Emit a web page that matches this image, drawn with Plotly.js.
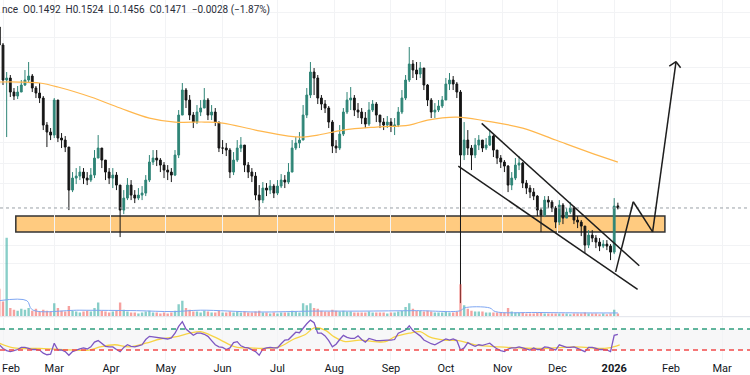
<!DOCTYPE html>
<html><head><meta charset="utf-8">
<script src="https://cdn.plot.ly/plotly-3.0.1.min.js"></script>
<style>html,body{margin:0;padding:0;background:#fff}#chart{width:750px;height:375px}</style>
</head><body><div id="chart"></div>
<script>
// ---- data (one candle per two days, starting 2025-01-30) ----
const candleStart = '2025-01-30';
const candleStepDays = 2;

const openPrices = [
.328,.310,.275,.277,.263,.259,.263,.270,.275,.279,
.267,.262,.257,.230,.223,.220,.255,.217,.215,.208,
.165,.177,.179,.183,.177,.175,.180,.197,.207,.195,
.183,.177,.180,.170,.145,.157,.170,.160,.157,.160,
.162,.175,.193,.197,.195,.190,.185,.183,.180,.200,
.240,.265,.255,.240,.233,.243,.247,.255,.240,.243,
.233,.207,.207,.205,.183,.195,.207,.210,.190,.183,
.179,.160,.155,.167,.165,.169,.162,.169,.175,.173,
.183,.207,.212,.215,.240,.260,.283,.277,.257,.251,
.247,.233,.209,.207,.221,.243,.255,.257,.245,.243,
.237,.231,.245,.251,.240,.233,.230,.233,.229,.230,
.243,.257,.275,.291,.285,.281,.287,.270,.255,.243,
.245,.249,.255,.271,.275,.271,.263,.200,.215,.207,
.200,.210,.215,.207,.210,.219,.205,.197,.193,.189,
.170,.177,.190,.192,.172,.167,.163,.159,.145,.140,
.155,.153,.147,.133,.150,.137,.143,.147,.135,.133,
.129,.110,.120,.117,.113,.109,.111,.109,.103,.1492];

const highPrices = [
.330,.312,.283,.280,.267,.269,.275,.285,.293,.281,
.269,.272,.259,.233,.227,.257,.255,.222,.219,.208,
.183,.187,.189,.187,.183,.187,.205,.220,.207,.195,
.187,.187,.183,.170,.165,.177,.175,.165,.167,.169,
.180,.200,.205,.205,.197,.193,.190,.187,.205,.245,
.272,.267,.260,.243,.250,.255,.267,.257,.250,.247,
.233,.215,.212,.207,.203,.215,.218,.210,.193,.187,
.183,.170,.173,.172,.175,.171,.175,.181,.180,.192,
.215,.218,.223,.250,.267,.293,.287,.280,.260,.255,
.249,.235,.215,.230,.247,.263,.268,.260,.252,.247,
.243,.253,.255,.253,.240,.237,.239,.237,.237,.248,
.265,.280,.308,.295,.293,.293,.287,.271,.257,.252,
.255,.259,.277,.282,.279,.273,.265,.233,.225,.210,
.217,.220,.215,.217,.225,.220,.205,.200,.195,.190,
.183,.197,.199,.193,.175,.170,.167,.160,.147,.159,
.159,.155,.149,.155,.152,.147,.153,.149,.139,.135,
.129,.125,.125,.120,.117,.115,.115,.111,.157,.1524];

const lowPrices = [
.305,.270,.218,.258,.255,.256,.263,.269,.273,.263,
.257,.252,.225,.208,.215,.217,.213,.207,.203,.145,
.163,.171,.175,.171,.170,.173,.177,.197,.187,.175,
.171,.167,.165,.118,.141,.155,.155,.152,.155,.155,
.159,.173,.190,.189,.183,.177,.175,.173,.179,.197,
.240,.247,.235,.227,.231,.239,.247,.235,.235,.229,
.203,.201,.199,.177,.180,.193,.203,.183,.177,.173,
.155,.140,.152,.159,.161,.157,.160,.167,.167,.171,
.183,.205,.207,.215,.237,.257,.260,.251,.245,.242,
.227,.202,.202,.205,.219,.241,.245,.239,.237,.231,
.227,.229,.243,.233,.227,.225,.227,.223,.220,.228,
.241,.255,.273,.277,.275,.277,.265,.249,.237,.237,
.243,.247,.255,.265,.265,.257,.052,.195,.200,.185,
.197,.205,.203,.205,.209,.198,.191,.187,.183,.163,
.165,.175,.185,.167,.161,.157,.155,.139,.123,.138,
.147,.143,.127,.130,.131,.137,.141,.131,.127,.119,
.102,.107,.113,.107,.104,.107,.105,.095,.101,.1456];

const closePrices = [
.310,.275,.277,.263,.259,.263,.270,.275,.279,.267,
.262,.257,.230,.223,.220,.255,.217,.215,.208,.165,
.177,.179,.183,.177,.175,.180,.197,.207,.195,.183,
.177,.180,.170,.145,.157,.170,.160,.157,.160,.162,
.175,.193,.197,.195,.190,.185,.183,.180,.200,.240,
.265,.255,.240,.233,.243,.247,.255,.240,.243,.233,
.207,.207,.205,.183,.195,.207,.210,.190,.183,.179,
.160,.155,.167,.165,.169,.162,.169,.175,.173,.183,
.207,.212,.215,.240,.260,.283,.277,.257,.251,.247,
.233,.209,.207,.221,.243,.255,.257,.245,.243,.237,
.231,.245,.251,.240,.233,.230,.233,.229,.230,.243,
.257,.275,.291,.285,.281,.287,.270,.255,.243,.245,
.249,.255,.271,.275,.271,.263,.200,.215,.207,.200,
.210,.215,.207,.210,.219,.205,.197,.193,.189,.170,
.177,.190,.192,.172,.167,.163,.159,.145,.140,.155,
.153,.147,.133,.150,.137,.143,.147,.135,.133,.129,
.110,.120,.117,.113,.109,.111,.109,.103,.149,.1471];

const volumes = [
30,16,86,9,7,6,8,7,9,6,
8,5,7,6,5,14,9,6,5,11,
6,5,4,5,6,5,9,15,6,5,
4,5,6,15,7,5,4,4,3,4,
5,6,4,4,3,4,3,4,6,13,
17,9,7,5,5,4,6,5,4,4,
6,4,4,5,4,5,4,5,4,4,
5,6,4,4,3,4,3,4,4,4,
6,5,4,14,12,14,9,8,6,5,
5,7,6,5,6,5,5,4,4,4,
4,5,4,4,4,4,3,4,4,5,
6,10,14,8,6,6,5,6,5,4,
4,4,5,4,4,5,35,12,8,6,
5,5,5,4,4,4,4,4,4,9,
5,4,4,4,3,3,3,4,4,3,
3,3,3,3,3,3,2,3,3,3,
4,3,3,3,2,3,2,3,7,3];

const rsiValues = [
40,33,29,27,29,31,35,35,33,31,
31,30,24,21,22,43,30,30,27,20,
27,30,32,34,32,36,45,48,42,37,
36,36,31,27,35,40,37,36,38,40,
50,56,55,54,52,51,51,53,62,75,
84,70,64,58,62,62,60,56,48,40,
36,35,31,34,44,46,38,35,34,30,
27,20,32,34,35,34,34,42,49,50,
58,64,63,72,80,87,82,62,62,57,
48,36,41,50,58,54,52,52,57,50,
45,52,50,48,48,49,49,49,50,62,
65,68,76,67,62,57,49,45,42,40,
44,47,51,49,51,48,30,34,44,40,
37,40,39,41,43,37,32,29,27,32,
34,34,36,34,32,30,34,31,31,36,
35,32,30,40,37,35,35,36,33,30,
27,35,35,33,31,31,30,27,58,60];

const maDates = ['2025-01-30','2025-02-10','2025-02-21','2025-03-03','2025-03-21','2025-04-06','2025-04-22','2025-05-06','2025-05-22','2025-06-01','2025-06-19','2025-07-07','2025-07-15','2025-07-23','2025-08-06','2025-08-24','2025-09-11','2025-09-21','2025-10-07','2025-10-23','2025-11-12','2025-11-30','2025-12-18','2026-01-03'];
const maValues = [.273,.273,.272,.268,.258,.247,.237,.233,.233,.232,.225,.219,.218,.220,.225,.228,.230,.235,.238,.234,.227,.215,.203,.193];

const volMaDates = ['2025-01-30','2025-02-14','2025-02-17','2025-03-15','2025-04-15','2025-05-05','2025-05-20','2025-06-20','2025-07-20','2025-08-15','2025-09-15','2025-10-09','2025-10-11','2025-10-25','2025-10-28','2025-11-20','2025-12-20','2026-01-03'];
const volMaValues = [17,17,7,6.5,6,5,6.5,4.5,5.5,5.5,6,6,9,9,5,4,3.5,3.5];

const rsiMaDates = ['2025-01-30','2025-02-07','2025-02-21','2025-03-04','2025-03-20','2025-03-26','2025-04-03','2025-04-11','2025-04-20','2025-04-28','2025-05-06','2025-05-14','2025-05-20','2025-05-25','2025-05-31','2025-06-08','2025-06-16','2025-06-24','2025-07-02','2025-07-10','2025-07-16','2025-07-21','2025-07-27','2025-08-01','2025-08-07','2025-08-15','2025-08-23','2025-08-29','2025-09-03','2025-09-11','2025-09-17','2025-09-22','2025-09-30','2025-10-08','2025-10-17','2025-10-30','2025-11-10','2025-11-24','2025-12-11','2025-12-24','2025-12-29','2026-01-04'];
const rsiMaValues = [43,34,33,31,30,36,40,36,43,51,55,62,65,59,49,36,34,33,36,51,59,72,68,55,46,49,46,46,55,62,65,55,49,48,40,36,34,33,36,33,34,40];

const monthTicks = ['2025-02-01','2025-03-01','2025-04-01','2025-05-01','2025-06-01','2025-07-01','2025-08-01','2025-09-01','2025-10-01','2025-11-01','2025-12-01','2026-01-01','2026-02-01','2026-03-01'];
const monthLabels = ['Feb','Mar','Apr','May','Jun','Jul','Aug','Sep','Oct','Nov','Dec','<b>2026</b>','Feb','Mar'];

const lastPrice = 0.1471;
const headerText = 'nce  O0.1492  H0.1524  L0.1456  C0.1471  −0.0028 (−1.87%)';

// ---- drawing ----
function buildDates(start, step, n){
  const t0 = Date.parse(start + 'T00:00:00Z');
  const out = [];
  for (let i = 0; i < n; i++) out.push(new Date(t0 + i*step*86400000).toISOString().slice(0,10));
  return out;
}
const dates = buildDates(candleStart, candleStepDays, closePrices.length);
const volColors = closePrices.map((c,i)=> c >= openPrices[i] ? 'rgba(38,166,154,0.55)' : 'rgba(239,83,80,0.55)');

const traces = [
  {type:'bar', x:dates, y:volumes, xaxis:'x', yaxis:'y3', marker:{color:volColors, line:{width:0}}, hoverinfo:'skip'},
  {type:'scatter', mode:'lines', x:volMaDates, y:volMaValues, xaxis:'x', yaxis:'y3', line:{color:'#7ea6f2', width:1, shape:'spline'}, hoverinfo:'skip'},
  {type:'scatter', mode:'lines', x:maDates, y:maValues, xaxis:'x', yaxis:'y', line:{color:'#ffb74d', width:1.2, shape:'spline'}, hoverinfo:'skip'},
  {type:'candlestick', x:dates, open:openPrices, high:highPrices, low:lowPrices, close:closePrices, xaxis:'x', yaxis:'y',
   increasing:{line:{color:'#2f8577', width:1}, fillcolor:'#2f8577'},
   decreasing:{line:{color:'#161616', width:1}, fillcolor:'#161616'}, whiskerwidth:0, hoverinfo:'skip'},
  {type:'scatter', mode:'lines', x:rsiMaDates, y:rsiMaValues, xaxis:'x', yaxis:'y2', line:{color:'#f7d344', width:1.3, shape:'spline'}, hoverinfo:'skip'},
  {type:'scatter', mode:'lines', x:dates, y:rsiValues, xaxis:'x', yaxis:'y2', line:{color:'#7e57c2', width:1.3}, hoverinfo:'skip'}
];

const ink = '#1e1e1e';
function seg(x0,y0,x1,y1){ return {type:'line', xref:'x', yref:'y', x0:x0, y0:y0, x1:x1, y1:y1, line:{color:ink, width:1.5}}; }

const shapes = [
  {type:'rect', xref:'paper', yref:'y2', x0:0, x1:1, y0:30, y1:70, fillcolor:'rgba(149,152,161,0.08)', line:{width:0}, layer:'below'},
  {type:'line', xref:'paper', yref:'y2', x0:0, x1:1, y0:70, y1:70, line:{color:'#2e9e7e', width:1.3, dash:'5px,4px'}},
  {type:'line', xref:'paper', yref:'y2', x0:0, x1:1, y0:30, y1:30, line:{color:'#f24b4b', width:1.3, dash:'5px,4px'}},
  {type:'line', xref:'paper', yref:'paper', x0:0, x1:1, y0:0.1555, y1:0.1555, line:{color:'#e0e3eb', width:1}},
  {type:'line', xref:'paper', yref:'y', x0:0, x1:1, y0:lastPrice, y1:lastPrice, line:{color:'#9aa0a6', width:1, dash:'dot'}},
  {type:'rect', xref:'x', yref:'y', x0:'2025-02-08', x1:'2026-01-28 17:00', y0:0.123, y1:0.139, fillcolor:'#ffcb80', line:{color:'#333', width:1.5}, layer:'below'},
  seg('2025-10-20 14:00',0.2317,'2026-01-14 17:00',0.0893),
  seg('2025-10-07 19:00',0.189,'2026-01-13 19:00',0.0657),
  seg('2026-01-01 19:00',0.0833,'2026-01-11 10:00',0.1533),
  seg('2026-01-11 10:00',0.1533,'2026-01-22 00:00',0.1233),
  seg('2026-01-22 00:00',0.1233,'2026-02-03 19:00',0.2933),
  seg('2026-01-31 02:00',0.289,'2026-02-03 19:00',0.2933),
  seg('2026-02-03 19:00',0.2933,'2026-02-06 07:00',0.2873)
];

const layout = {
  width:750, height:375, margin:{l:0,r:0,t:0,b:0},
  paper_bgcolor:'#ffffff', plot_bgcolor:'#ffffff', showlegend:false, bargap:0.35,
  font:{family:'Roboto, Liberation Sans, sans-serif', color:'#131722'},
  xaxis:{type:'date', anchor:'y2', range:['2025-01-30 08:40','2026-03-16 05:00'], tickvals:monthTicks, ticktext:monthLabels,
    showgrid:true, gridcolor:'#f2f3f5', gridwidth:1, zeroline:false, showline:false, ticks:'', tickfont:{size:11, color:'#131722'},
    rangeslider:{visible:false}, fixedrange:true},
  yaxis:{domain:[0.157,1], range:[0.039,0.355], tickvals:[0.343,0.318,0.288,0.272,0.255,0.213,0.192,0.172,0.110,0.092],
    showticklabels:false, showgrid:true, gridcolor:'#f2f3f5', zeroline:false, showline:false, ticks:'', fixedrange:true},
  yaxis3:{overlaying:'y', range:[0,347], visible:false, fixedrange:true},
  yaxis2:{domain:[0.04,0.152], range:[11,91], showticklabels:false, showgrid:false, zeroline:false, showline:false, ticks:'', fixedrange:true},
  shapes:shapes,
  annotations:[
    {xref:'paper', yref:'paper', x:0, y:1-10/375, xanchor:'left', yanchor:'middle', showarrow:false,
     text:headerText, font:{size:10, color:'#2a2e39', family:'Roboto, Liberation Sans, sans-serif'}},
    {xref:'paper', yref:'paper', x:0, y:(375-368)/375, xanchor:'left', yanchor:'middle', showarrow:false,
     text:monthLabels[0], font:{size:11, color:'#131722', family:'Roboto, Liberation Sans, sans-serif'}}
  ]
};

Plotly.newPlot('chart', traces, layout, {staticPlot:true, displayModeBar:false});
</script></body></html>
